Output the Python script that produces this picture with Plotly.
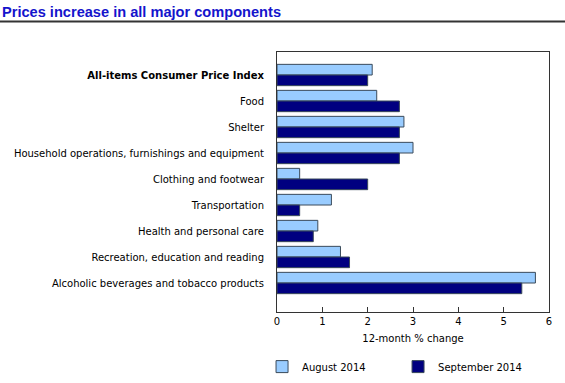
import plotly.graph_objects as go

categories = [
    "All-items Consumer Price Index",
    "Food",
    "Shelter",
    "Household operations, furnishings and equipment",
    "Clothing and footwear",
    "Transportation",
    "Health and personal care",
    "Recreation, education and reading",
    "Alcoholic beverages and tobacco products",
]
august_2014 = [2.1, 2.2, 2.8, 3.0, 0.5, 1.2, 0.9, 1.4, 5.7]
september_2014 = [2.0, 2.7, 2.7, 2.7, 2.0, 0.5, 0.8, 1.6, 5.4]
x_ticks = [0, 1, 2, 3, 4, 5, 6]
title_text = "Prices increase in all major components"
x_title = "12-month % change"

tick_text = ["<b>" + categories[0] + "</b>"] + categories[1:]
pos = list(range(len(categories)))

W, H = 565, 383
ml, mr, mt, mb = 277, 16, 52, 71
pw, ph = W - ml - mr, H - mt - mb

fig = go.Figure()
fig.add_trace(go.Bar(
    y=pos, x=august_2014, orientation="h", name="August 2014",
    marker=dict(color="#99ccff", line=dict(color="#3a4a5a", width=1)),
    offsetgroup="a",
))
fig.add_trace(go.Bar(
    y=pos, x=september_2014, orientation="h", name="September 2014",
    marker=dict(color="#000080", line=dict(color="#3a4a5a", width=1)),
    offsetgroup="b",
))

font = "DejaVu Sans, Verdana, sans-serif"
fig.update_layout(
    width=W, height=H,
    margin=dict(l=ml, r=mr, t=mt, b=mb, pad=0, autoexpand=False),
    paper_bgcolor="white", plot_bgcolor="white",
    barmode="group", bargap=0.18, bargroupgap=0,
    font=dict(family=font, size=10, color="#000000"),
    showlegend=True,
    legend=dict(orientation="h", x=-0.055, xanchor="left", y=-0.21, yanchor="middle",
                font=dict(family=font, size=10), itemwidth=30,
                traceorder="normal", entrywidth=91, entrywidthmode="pixels"),
    xaxis=dict(range=[0, 6], tickvals=x_ticks, ticks="inside", ticklen=5,
               tickcolor="#333333", showgrid=False, zeroline=False,
               showline=True, linecolor="#333333", linewidth=1, mirror=True,
               title=dict(text=x_title, font=dict(family=font, size=10), standoff=8),
               tickfont=dict(family=font, size=10)),
    yaxis=dict(range=[9.115, -0.885], tickvals=pos, ticktext=tick_text,
               ticks="", showgrid=False, zeroline=False,
               showline=True, linecolor="#333333", linewidth=1, mirror=True,
               ticklabelstandoff=10,
               tickfont=dict(family=font, size=10)),
)

fig.add_annotation(text="<b>" + title_text + "</b>", xref="paper", yref="paper",
                   x=-ml / pw, y=(H - mb - 12) / ph, xanchor="left", yanchor="middle",
                   showarrow=False, font=dict(family="Liberation Sans, Arial, sans-serif",
                                              size=14.6, color="#1414cc"))
fig.add_shape(type="line", xref="paper", yref="paper",
              x0=-ml / pw, x1=(W - ml) / pw,
              y0=(H - mb - 21.5) / ph, y1=(H - mb - 21.5) / ph,
              line=dict(color="#333333", width=2))

fig.write_html("out.html", config={"displayModeBar": False},
               post_script="document.body.style.margin='0';")
